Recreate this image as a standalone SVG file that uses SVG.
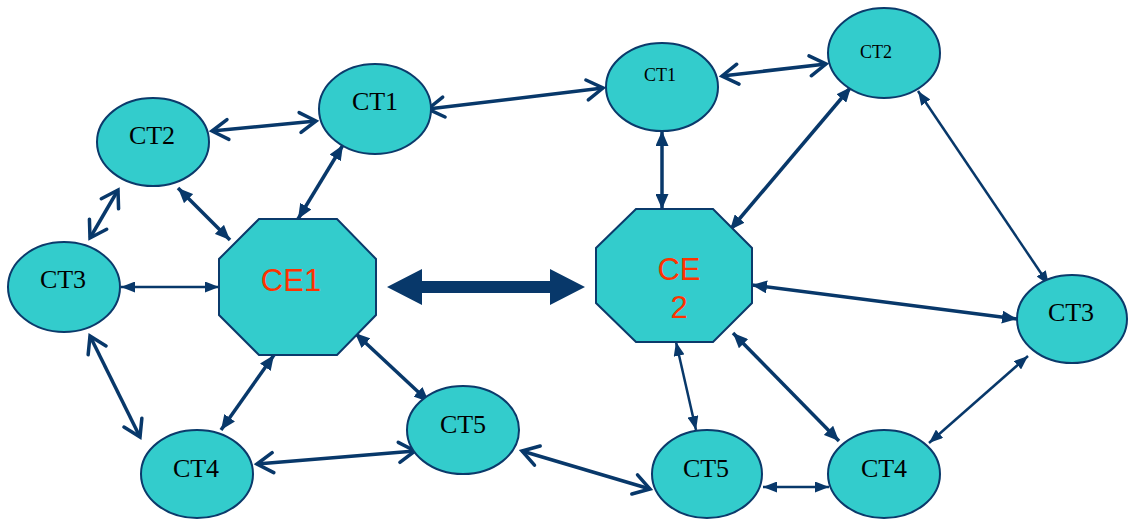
<svg xmlns="http://www.w3.org/2000/svg" width="1129" height="520" viewBox="0 0 1129 520">
<style>
.n{fill:#33CCCC;stroke:#0B3A6B;stroke-width:2}
.t{font-family:"Liberation Serif","Times New Roman",serif;font-size:26px;fill:#000;text-anchor:middle}
.ts{font-size:18px}
.ce{font-family:"Liberation Sans",Arial,sans-serif;font-size:31px;fill:#FF3300;text-anchor:middle}
.c{stroke:#08386A;fill:none}
.o{stroke-width:3.5;marker-start:url(#op);marker-end:url(#op)}
.f{stroke-width:3.5;marker-start:url(#tr);marker-end:url(#tr)}
.fs{stroke-width:2.5;marker-start:url(#trs);marker-end:url(#trs)}
</style>
<defs>
<marker id="op" viewBox="0 0 17 20" refX="16" refY="10" markerWidth="17" markerHeight="20" markerUnits="userSpaceOnUse" orient="auto-start-reverse" overflow="visible"><path d="M0,0 L16,10 L0,20" fill="none" stroke="#08386A" stroke-width="3.5" stroke-linecap="round" stroke-linejoin="miter"/></marker>
<marker id="tr" viewBox="0 0 15 13" refX="15" refY="6.5" markerWidth="15" markerHeight="13" markerUnits="userSpaceOnUse" orient="auto-start-reverse"><path d="M0,0 L15,6.5 L0,13 z" fill="#08386A"/></marker>
<marker id="trs" viewBox="0 0 14 11" refX="14" refY="5.5" markerWidth="14" markerHeight="11" markerUnits="userSpaceOnUse" orient="auto-start-reverse"><path d="M0,0 L14,5.5 L0,11 z" fill="#08386A"/></marker>
</defs>
<g id="connectors">
<line class="c o" x1="212" y1="131" x2="316" y2="121"/>
<line class="c o" x1="428" y1="109" x2="603" y2="88"/>
<line class="c o" x1="722" y1="76" x2="826" y2="64"/>
<line class="c o" x1="118" y1="190" x2="90" y2="238"/>
<line class="c f" x1="178" y1="188" x2="230" y2="240"/>
<line class="c f" x1="343" y1="145" x2="298" y2="219"/>
<line class="c fs" x1="121" y1="287" x2="219" y2="287"/>
<line class="c o" x1="90" y1="336" x2="140" y2="437"/>
<line class="c f" x1="274" y1="355" x2="221" y2="430"/>
<line class="c f" x1="355" y1="333" x2="429" y2="402"/>
<line class="c o" x1="257" y1="464" x2="415" y2="451"/>
<line class="c o" x1="522" y1="451" x2="650" y2="489"/>
<polygon points="387,287 422,269 422,281 550,281 550,269 585,287 550,305 550,293 422,293 422,305" fill="#08386A"/>
<line class="c f" x1="662" y1="131" x2="662" y2="209"/>
<line class="c f" x1="851" y1="87" x2="730" y2="230"/>
<line class="c fs" x1="918" y1="91" x2="1049" y2="285"/>
<line class="c f" x1="752" y1="285" x2="1017" y2="319"/>
<line class="c fs" x1="676" y1="342" x2="696" y2="430"/>
<line class="c f" x1="733" y1="333" x2="839" y2="441"/>
<line class="c fs" x1="1028" y1="356" x2="929" y2="443"/>
<line class="c fs" x1="763" y1="487" x2="829" y2="487"/>
</g>
<g id="CE1"><polygon class="n" points="259,219 337,219 376,259 376,315 337,355 259,355 219,315 219,259"/><text class="ce" x="291" y="291">CE1</text></g>
<g id="CE2"><polygon class="n" points="636,209 713,209 752,248 752,303 713,342 636,342 596,303 596,248"/><text class="ce" x="679" y="280">CE</text><text class="ce" x="679" y="318">2</text></g>
<g id="CT1L"><ellipse class="n" cx="375" cy="109" rx="56" ry="45"/><text class="t" x="375" y="110">CT1</text></g>
<g id="CT2L"><ellipse class="n" cx="153" cy="142" rx="56" ry="44"/><text class="t" x="152" y="144">CT2</text></g>
<g id="CT3L"><ellipse class="n" cx="64" cy="287" rx="56" ry="45"/><text class="t" x="63" y="288">CT3</text></g>
<g id="CT4L"><ellipse class="n" cx="197" cy="474" rx="56" ry="44"/><text class="t" x="196" y="477">CT4</text></g>
<g id="CT5L"><ellipse class="n" cx="463" cy="430" rx="56" ry="44"/><text class="t" x="463" y="433">CT5</text></g>
<g id="CT1R"><ellipse class="n" cx="662" cy="87" rx="56" ry="44"/><text class="t ts" x="660" y="81">CT1</text></g>
<g id="CT2R"><ellipse class="n" cx="884" cy="53" rx="56" ry="45"/><text class="t ts" x="876" y="58">CT2</text></g>
<g id="CT3R"><ellipse class="n" cx="1072" cy="319" rx="55" ry="44"/><text class="t" x="1071" y="321">CT3</text></g>
<g id="CT4R"><ellipse class="n" cx="884" cy="474" rx="56" ry="44"/><text class="t" x="884" y="477">CT4</text></g>
<g id="CT5R"><ellipse class="n" cx="707" cy="474" rx="55" ry="44"/><text class="t" x="706" y="477">CT5</text></g>
</svg>
